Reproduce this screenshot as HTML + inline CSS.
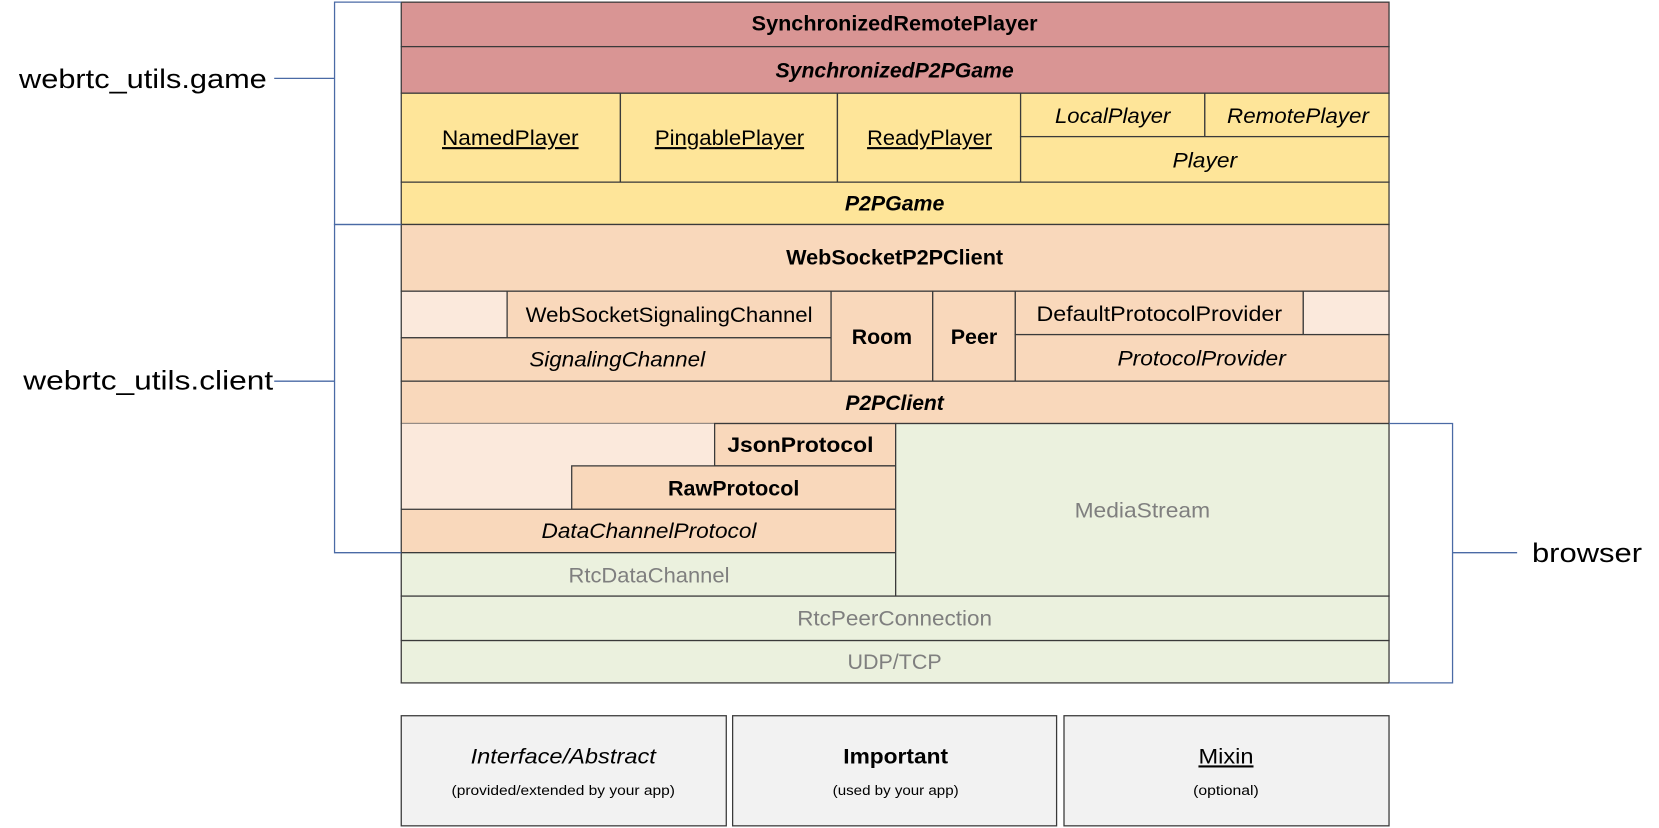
<!DOCTYPE html>
<html><head><meta charset="utf-8">
<style>
html,body{margin:0;padding:0;background:#fff;width:1659px;height:828px;overflow:hidden}
svg{display:block}
text{font-family:"Liberation Sans",sans-serif;font-size:20px;fill:#000}
.b{font-weight:bold}
.i{font-style:italic}
.g{fill:#7f7f7f}
.u{text-decoration:underline}
.s{font-size:25px}
.t{font-size:13px}
</style></head><body>
<svg width="1659" height="828" viewBox="0 0 1567 782" xmlns="http://www.w3.org/2000/svg">
<g stroke="#3a3a3a" stroke-width="1.2">
<rect x="379" y="2" width="933" height="42" fill="#d99594"/>
<rect x="379" y="44" width="933" height="44" fill="#d99594"/>
<rect x="379" y="88" width="207" height="84" fill="#fee599"/>
<rect x="586" y="88" width="205" height="84" fill="#fee599"/>
<rect x="791" y="88" width="173" height="84" fill="#fee599"/>
<rect x="964" y="88" width="174" height="41" fill="#fee599"/>
<rect x="1138" y="88" width="174" height="41" fill="#fee599"/>
<rect x="964" y="129" width="348" height="43" fill="#fee599"/>
<rect x="379" y="172" width="933" height="40" fill="#fee599"/>
<rect x="379" y="212" width="933" height="63" fill="#f9d8bb"/>
<rect x="379" y="275" width="100" height="44" fill="#fbe9dc"/>
<rect x="479" y="275" width="306" height="44" fill="#f9d8bb"/>
<rect x="379" y="319" width="406" height="41" fill="#f9d8bb"/>
<rect x="785" y="275" width="96" height="85" fill="#f9d8bb"/>
<rect x="881" y="275" width="78" height="85" fill="#f9d8bb"/>
<rect x="959" y="275" width="272" height="41" fill="#f9d8bb"/>
<rect x="1231" y="275" width="81" height="41" fill="#fbe9dc"/>
<rect x="959" y="316" width="353" height="44" fill="#f9d8bb"/>
<rect x="379" y="360" width="933" height="40" fill="#f9d8bb"/>
<rect x="379" y="400" width="296" height="81" fill="#fbe9dc" stroke="none"/>
<rect x="675" y="400" width="171" height="40" fill="#f9d8bb"/>
<rect x="540" y="440" width="306" height="41" fill="#f9d8bb"/>
<rect x="379" y="481" width="467" height="41" fill="#f9d8bb"/>
<rect x="379" y="522" width="467" height="41" fill="#ebf1de"/>
<rect x="846" y="400" width="466" height="163" fill="#ebf1de"/>
<rect x="379" y="563" width="933" height="42" fill="#ebf1de"/>
<rect x="379" y="605" width="933" height="40" fill="#ebf1de"/>
<rect x="379" y="676" width="307" height="104" fill="#f2f2f2"/>
<rect x="692" y="676" width="306" height="104" fill="#f2f2f2"/>
<rect x="1005" y="676" width="307" height="104" fill="#f2f2f2"/>
</g>
<line x1="379" y1="400" x2="379" y2="481" stroke="#3a3a3a" stroke-width="1.2"/>
<g stroke="#4a6aa5" stroke-width="1.2" fill="none">
<polyline points="379,2 316,2 316,212 379,212"/>
<line x1="259" y1="74" x2="316" y2="74"/>
<polyline points="379,212 316,212 316,522 379,522"/>
<line x1="259" y1="360" x2="316" y2="360"/>
<polyline points="1312,400 1372,400 1372,645 1312,645"/>
<line x1="1372" y1="522" x2="1433" y2="522"/>
</g>
<g lengthAdjust="spacingAndGlyphs">
<text x="18" y="83" class="s" textLength="234" lengthAdjust="spacingAndGlyphs">webrtc_utils.game</text>
<text x="22" y="368" class="s" textLength="236" lengthAdjust="spacingAndGlyphs">webrtc_utils.client</text>
<text x="1447" y="531" class="s" textLength="104" lengthAdjust="spacingAndGlyphs">browser</text>
</g>
<g text-anchor="middle">
<text x="845" y="29" class="b" textLength="270" lengthAdjust="spacingAndGlyphs">SynchronizedRemotePlayer</text>
<text x="845" y="73" class="b i" textLength="225" lengthAdjust="spacingAndGlyphs">SynchronizedP2PGame</text>
<text x="482" y="137" class="u" textLength="129" lengthAdjust="spacingAndGlyphs">NamedPlayer</text>
<text x="689" y="137" class="u" textLength="141" lengthAdjust="spacingAndGlyphs">PingablePlayer</text>
<text x="878" y="137" class="u" textLength="118" lengthAdjust="spacingAndGlyphs">ReadyPlayer</text>
<text x="1051" y="116" class="i" textLength="109" lengthAdjust="spacingAndGlyphs">LocalPlayer</text>
<text x="1226" y="116" class="i" textLength="134" lengthAdjust="spacingAndGlyphs">RemotePlayer</text>
<text x="1138" y="158" class="i" textLength="61" lengthAdjust="spacingAndGlyphs">Player</text>
<text x="845" y="199" class="b i" textLength="94" lengthAdjust="spacingAndGlyphs">P2PGame</text>
<text x="845" y="250" class="b" textLength="205" lengthAdjust="spacingAndGlyphs">WebSocketP2PClient</text>
<text x="632" y="304" textLength="271" lengthAdjust="spacingAndGlyphs">WebSocketSignalingChannel</text>
<text x="583" y="346" class="i" textLength="166" lengthAdjust="spacingAndGlyphs">SignalingChannel</text>
<text x="833" y="325" class="b" textLength="57" lengthAdjust="spacingAndGlyphs">Room</text>
<text x="920" y="325" class="b" textLength="44" lengthAdjust="spacingAndGlyphs">Peer</text>
<text x="1095" y="303" textLength="232" lengthAdjust="spacingAndGlyphs">DefaultProtocolProvider</text>
<text x="1135" y="345" class="i" textLength="159" lengthAdjust="spacingAndGlyphs">ProtocolProvider</text>
<text x="845" y="387" class="b i" textLength="93" lengthAdjust="spacingAndGlyphs">P2PClient</text>
<text x="756" y="427" class="b" textLength="138" lengthAdjust="spacingAndGlyphs">JsonProtocol</text>
<text x="693" y="468" class="b" textLength="124" lengthAdjust="spacingAndGlyphs">RawProtocol</text>
<text x="613" y="508" class="i" textLength="203" lengthAdjust="spacingAndGlyphs">DataChannelProtocol</text>
<text x="613" y="550" class="g" textLength="152" lengthAdjust="spacingAndGlyphs">RtcDataChannel</text>
<text x="1079" y="489" class="g" textLength="128" lengthAdjust="spacingAndGlyphs">MediaStream</text>
<text x="845" y="591" class="g" textLength="184" lengthAdjust="spacingAndGlyphs">RtcPeerConnection</text>
<text x="845" y="632" class="g" textLength="89" lengthAdjust="spacingAndGlyphs">UDP/TCP</text>
<text x="532" y="721" class="i" textLength="175" lengthAdjust="spacingAndGlyphs">Interface/Abstract</text>
<text x="532" y="751" class="t" textLength="211" lengthAdjust="spacingAndGlyphs">(provided/extended by your app)</text>
<text x="846" y="721" class="b" textLength="99" lengthAdjust="spacingAndGlyphs">Important</text>
<text x="846" y="751" class="t" textLength="119" lengthAdjust="spacingAndGlyphs">(used by your app)</text>
<text x="1158" y="721" class="u" textLength="52" lengthAdjust="spacingAndGlyphs">Mixin</text>
<text x="1158" y="751" class="t" textLength="62" lengthAdjust="spacingAndGlyphs">(optional)</text>
</g>
</svg>
</body></html>
